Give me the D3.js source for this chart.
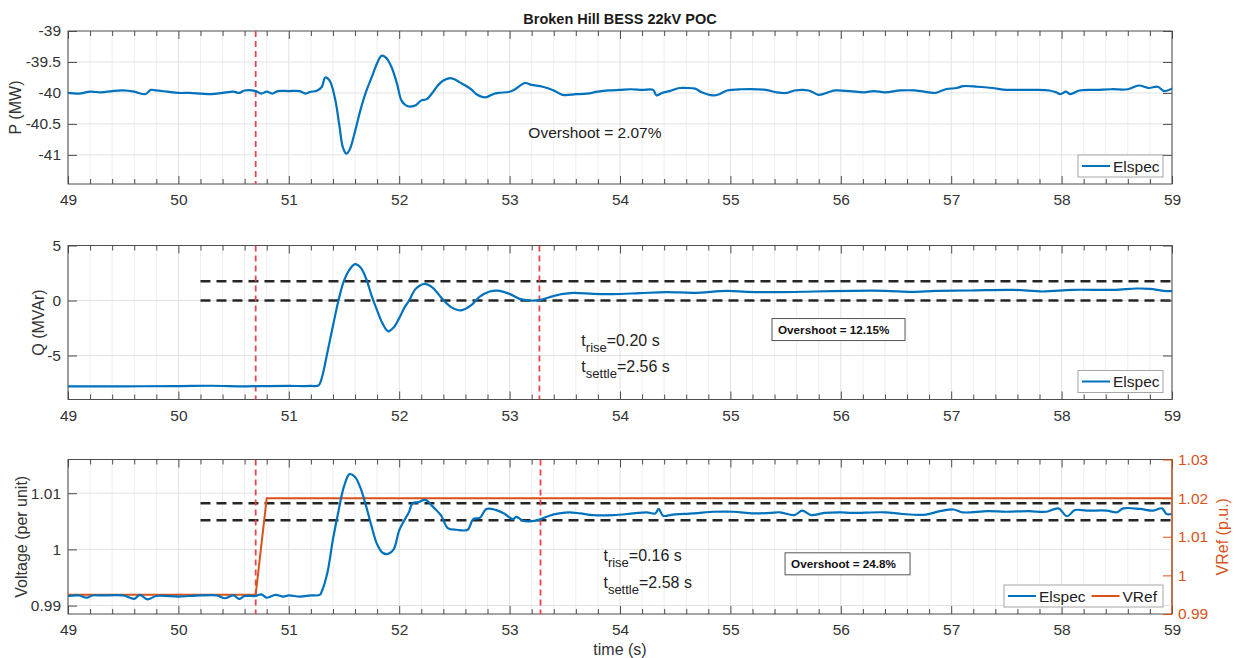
<!DOCTYPE html>
<html><head><meta charset="utf-8">
<script src="https://cdn.jsdelivr.net/npm/d3@7"></script>
<style>
body{margin:0;background:#fff}
svg{display:block;font-family:"Liberation Sans",Arial,Helvetica,sans-serif}
</style>
</head><body>
<svg id="c" width="1236" height="658"></svg>
<script>
// ---------------- DATA ----------------
const chartTitle = "Broken Hill BESS 22kV POC";
const timeTicks = [49,50,51,52,53,54,55,56,57,58,59];
const timeMinorStep = 0.2;

const pTicks = [-41,-40.5,-40,-39.5,-39];
const qTicks = [-5,0,5];
const vTicks = [0.99,1,1.01];
const vrefTicks = [0.99,1,1.01,1.02,1.03];

// Elspec active power (MW): [time, value]
const pSeries = [
[49.0,-40.0],[49.1,-40.01],[49.2,-39.98],[49.3,-39.99],[49.4,-39.97],[49.5,-39.96],[49.6,-39.98],[49.7,-40.02],[49.75,-39.95],[49.8,-39.96],[49.9,-39.98],
[50.0,-40.0],[50.1,-40.0],[50.2,-40.01],[50.3,-40.02],[50.4,-40.0],[50.5,-39.98],[50.55,-40.0],[50.6,-39.96],[50.7,-39.97],[50.75,-40.01],[50.8,-39.98],[50.85,-40.01],[50.9,-39.97],
[51.0,-39.97],[51.1,-39.97],[51.15,-40.01],[51.2,-39.98],[51.25,-39.97],[51.3,-39.9],[51.33,-39.75],[51.37,-39.8],[51.42,-40.1],[51.46,-40.55],[51.49,-40.88],[51.52,-40.98],[51.55,-40.92],[51.6,-40.62],[51.65,-40.27],[51.7,-39.98],[51.75,-39.75],[51.8,-39.52],[51.84,-39.4],[51.88,-39.43],[51.93,-39.58],
[51.98,-39.85],[52.02,-40.12],[52.06,-40.2],[52.1,-40.22],[52.15,-40.2],[52.2,-40.12],[52.25,-40.1],[52.3,-40.0],[52.35,-39.88],[52.4,-39.8],[52.46,-39.76],[52.5,-39.78],[52.55,-39.83],[52.6,-39.88],[52.65,-39.94],[52.7,-40.02],[52.78,-40.07],[52.85,-40.02],[52.9,-40.0],
[53.0,-39.98],[53.05,-39.94],[53.14,-39.84],[53.2,-39.87],[53.3,-39.9],[53.4,-39.96],[53.48,-40.03],[53.6,-40.02],[53.7,-40.01],[53.8,-39.98],[53.9,-39.96],
[54.0,-39.95],[54.1,-39.94],[54.2,-39.95],[54.3,-39.95],[54.33,-40.04],[54.38,-40.0],[54.45,-39.97],[54.54,-39.92],[54.6,-39.92],[54.68,-39.93],[54.74,-39.99],[54.84,-40.04],[54.9,-40.02],[54.97,-39.96],
[55.1,-39.94],[55.32,-39.95],[55.42,-39.99],[55.51,-40.0],[55.58,-39.96],[55.71,-39.96],[55.8,-40.03],[55.9,-39.98],[55.95,-39.96],
[56.08,-39.97],[56.21,-39.99],[56.3,-39.97],[56.4,-39.99],[56.54,-39.96],[56.67,-39.96],[56.8,-39.99],[56.86,-40.0],[56.95,-39.94],
[57.05,-39.92],[57.11,-39.89],[57.24,-39.9],[57.37,-39.92],[57.5,-39.95],[57.63,-39.95],[57.76,-39.95],[57.89,-39.96],[57.95,-39.99],[57.99,-40.02],
[58.04,-39.98],[58.08,-40.02],[58.16,-39.96],[58.32,-39.95],[58.45,-39.94],[58.6,-39.94],[58.7,-39.88],[58.79,-39.92],[58.87,-39.9],[58.93,-39.97],[59.0,-39.93]
];

// Elspec reactive power (MVAr): [time, value]
const qSeries = [
[49.0,-7.8],[49.5,-7.8],[50.0,-7.78],[50.3,-7.75],[50.6,-7.8],[50.8,-7.78],[51.0,-7.77],[51.2,-7.77],[51.27,-7.72],[51.3,-7.0],[51.35,-4.7],[51.4,-2.3],[51.45,0.0],[51.5,1.8],[51.55,2.8],[51.6,3.3],[51.65,3.0],[51.7,2.0],[51.75,0.45],[51.8,-0.9],[51.85,-2.1],[51.9,-2.8],[51.95,-2.45],
[52.0,-1.6],[52.05,-0.6],[52.09,0.0],[52.15,1.06],[52.23,1.52],[52.3,1.2],[52.39,0.15],[52.47,-0.6],[52.56,-0.9],[52.65,-0.45],[52.73,0.36],[52.82,0.82],[52.89,0.9],
[53.0,0.6],[53.09,0.15],[53.18,0.0],[53.27,0.03],[53.36,0.3],[53.47,0.58],[53.58,0.7],[53.76,0.6],[53.94,0.58],[54.18,0.67],[54.42,0.76],[54.67,0.7],[54.97,0.88],
[55.15,0.79],[55.45,0.76],[55.76,0.82],[56.1,0.88],[56.4,0.88],[56.65,0.79],[56.86,0.88],[57.17,0.91],[57.56,0.97],[57.83,0.82],[58.1,0.97],[58.47,0.97],[58.68,1.09],[58.8,1.06],[58.92,0.88],[59.0,0.85]
];

// Elspec voltage (p.u.): [time, value]
const vSeries = [
[49.0,0.9917],[49.1,0.9918],[49.17,0.9914],[49.22,0.9918],[49.3,0.9918],[49.5,0.9918],[49.6,0.9912],[49.65,0.9919],[49.72,0.9911],[49.8,0.9917],
[50.0,0.9916],[50.1,0.9917],[50.2,0.9918],[50.35,0.9918],[50.42,0.9913],[50.5,0.9918],[50.55,0.9912],[50.6,0.9917],[50.7,0.9917],[50.75,0.992],[50.8,0.9914],[50.88,0.9919],[50.95,0.9916],
[51.0,0.9918],[51.1,0.9916],[51.2,0.9918],[51.28,0.9919],[51.3,0.9926],[51.35,0.9959],[51.4,1.0018],[51.45,1.0068],[51.5,1.0112],[51.55,1.0134],[51.6,1.0129],[51.65,1.0109],[51.7,1.0077],[51.75,1.0041],[51.8,1.0009],[51.85,0.9994],[51.9,0.9992],[51.95,1.0],
[52.0,1.0034],[52.05,1.0053],[52.09,1.0067],[52.12,1.0082],[52.17,1.0084],[52.24,1.0088],[52.3,1.0077],[52.38,1.006],[52.44,1.0038],[52.52,1.0035],[52.62,1.0035],[52.67,1.0054],[52.73,1.0056],[52.79,1.0072],[52.88,1.007],[52.95,1.0064],
[53.03,1.0054],[53.06,1.0058],[53.12,1.0051],[53.18,1.005],[53.27,1.0053],[53.36,1.006],[53.45,1.0064],[53.54,1.0066],[53.64,1.0064],[53.76,1.0061],[53.94,1.0061],
[54.12,1.0064],[54.24,1.0066],[54.32,1.0064],[54.35,1.0072],[54.39,1.006],[54.48,1.0062],[54.67,1.0064],[54.85,1.0067],[55.03,1.0067],[55.21,1.0064],[55.36,1.0065],[55.45,1.0066],[55.58,1.0061],[55.65,1.0069],[55.73,1.0061],[55.85,1.0065],
[56.0,1.0066],[56.1,1.0065],[56.4,1.0066],[56.56,1.0063],[56.77,1.0062],[56.9,1.0068],[57.02,1.0071],[57.1,1.0066],[57.33,1.0068],[57.5,1.0067],[57.7,1.0068],[57.86,1.0067],[57.97,1.0073],
[58.05,1.0059],[58.12,1.007],[58.23,1.0069],[58.41,1.0069],[58.5,1.0066],[58.56,1.0073],[58.71,1.0072],[58.83,1.0069],[58.91,1.0073],[58.95,1.0063],[59.0,1.0063]
];

// Voltage reference (p.u., right axis)
const vrefSeries = [[49.0,0.995],[50.7,0.995],[50.8,1.02],[59.0,1.02]];

// Settling bands and event markers
const bandStart = 50.2;
const qBand = [0, 1.75];
const vBand = [1.0052, 1.0082];
const pEvents = [50.7];
const qEvents = [50.7, 53.27];
const vEvents = [50.7, 53.28];

// Annotation texts
const pOvershoot = "Overshoot = 2.07%";
const qRise = "0.20 s", qSettle = "2.56 s", qOvershoot = "Overshoot = 12.15%";
const vRise = "0.16 s", vSettle = "2.58 s", vOvershoot = "Overshoot = 24.8%";

// ---------------- DRAW ----------------
const BLUE = "#0072BD", ORANGE = "#D95319", RED = "#e4474c", AX = "#4d4d4d", TXT = "#333";
const svg = d3.select("#c");
const L = 68, R = 1172;
const x = d3.scaleLinear().domain([49,59]).range([L,R]);
const minorTicks = d3.range(49, 59.0001, timeMinorStep).map(v => +v.toFixed(1)).filter(v => !timeTicks.includes(v));
const fmt = v => String(v);

function panel(id, top, bottom, yDomain, yTicks) {
  const y = d3.scaleLinear().domain(yDomain).range([bottom, top]);
  const g = svg.append("g");
  svg.append("clipPath").attr("id","clip"+id).append("rect")
    .attr("x",L).attr("y",top).attr("width",R-L).attr("height",bottom-top);
  const grid = g.append("g");
  grid.selectAll(".mn").data(minorTicks).join("line")
    .attr("x1",d=>x(d)).attr("x2",d=>x(d)).attr("y1",top).attr("y2",bottom)
    .attr("stroke","#eeeeee").attr("stroke-width",1);
  grid.selectAll(".mj").data(timeTicks).join("line")
    .attr("x1",d=>x(d)).attr("x2",d=>x(d)).attr("y1",top).attr("y2",bottom)
    .attr("stroke","#e2e2e2").attr("stroke-width",1);
  grid.selectAll(".hy").data(yTicks.filter(v => y(v) > top+1 && y(v) < bottom-1)).join("line")
    .attr("x1",L).attr("x2",R).attr("y1",d=>y(d)).attr("y2",d=>y(d))
    .attr("stroke","#e2e2e2").attr("stroke-width",1);
  const styleAxis = (sel, col) => {
    sel.select(".domain").remove();
    sel.selectAll(".tick line").attr("stroke", col || AX);
    sel.selectAll(".tick text").attr("fill", col || TXT).style("font-size","15.5px").style("font-family",'"Liberation Sans",Arial,sans-serif');
  };
  g.append("g").attr("transform",`translate(0,${bottom})`)
    .call(d3.axisBottom(x).tickValues(timeTicks).tickFormat(fmt).tickSizeInner(-8).tickSizeOuter(0).tickPadding(10))
    .call(s=>styleAxis(s));
  g.append("g").attr("transform",`translate(0,${bottom})`)
    .call(d3.axisBottom(x).tickValues(minorTicks).tickFormat("").tickSizeInner(-5).tickSizeOuter(0))
    .call(s=>styleAxis(s));
  g.append("g").attr("transform",`translate(0,${top})`)
    .call(d3.axisTop(x).tickValues(timeTicks).tickFormat("").tickSizeInner(-8).tickSizeOuter(0))
    .call(s=>styleAxis(s));
  g.append("g").attr("transform",`translate(0,${top})`)
    .call(d3.axisTop(x).tickValues(minorTicks).tickFormat("").tickSizeInner(-5).tickSizeOuter(0))
    .call(s=>styleAxis(s));
  g.append("g").attr("transform",`translate(${L},0)`)
    .call(d3.axisLeft(y).tickValues(yTicks).tickFormat(fmt).tickSizeInner(-9).tickSizeOuter(0).tickPadding(7))
    .call(s=>styleAxis(s));
  g.append("rect").attr("x",L).attr("y",top).attr("width",R-L).attr("height",bottom-top)
    .attr("fill","none").attr("stroke",AX).attr("stroke-width",1);
  const plot = svg.append("g").attr("clip-path",`url(#clip${id})`);
  return {y, g, plot, top, bottom};
}

function seriesLine(plot, yS, data, color, w, curve) {
  plot.append("path").datum(data)
    .attr("d", d3.line().x(d=>x(d[0])).y(d=>yS(d[1])).curve(curve || d3.curveCatmullRom.alpha(0.5)))
    .attr("fill","none").attr("stroke",color).attr("stroke-width",w)
    .attr("stroke-linejoin","round").attr("stroke-linecap","round");
}
function events(p, list) {
  p.plot.selectAll(null).data(list).join("line")
    .attr("x1",d=>x(d)).attr("x2",d=>x(d)).attr("y1",p.top).attr("y2",p.bottom)
    .attr("stroke",RED).attr("stroke-width",1.8).attr("stroke-dasharray","6,4");
}
function band(p, vals) {
  p.plot.selectAll(null).data(vals).join("line")
    .attr("x1",x(bandStart)).attr("x2",x(59)).attr("y1",d=>p.y(d)).attr("y2",d=>p.y(d))
    .attr("stroke","#262626").attr("stroke-width",2.4).attr("stroke-dasharray","10,6");
}
function legend(p, items, width) {
  const h = 22, rx = R - 9, by = p.bottom - 7;
  const lg = svg.append("g").attr("transform",`translate(${rx-width},${by-h})`);
  lg.append("rect").attr("width",width).attr("height",h).attr("fill","#fff").attr("stroke","#a6a6a6").attr("stroke-width",1);
  let cx = 4;
  items.forEach(it => {
    lg.append("line").attr("x1",cx).attr("x2",cx+28).attr("y1",h/2).attr("y2",h/2).attr("stroke",it.color).attr("stroke-width",2);
    const t = lg.append("text").attr("x",cx+31).attr("y",h/2).attr("dy","0.36em").attr("fill","#222")
      .style("font-size","15.5px").text(it.name);
    cx += 31 + t.node().getComputedTextLength() + 6;
  });
}
function riseSettle(p, t, yv1, yv2, rise, settle) {
  const mk = (yy, sub, val) => {
    const tx = p.g.append("text").attr("x",x(t)).attr("y",p.y(yy)).attr("fill","#222").style("font-size","16px");
    tx.append("tspan").text("t");
    tx.append("tspan").attr("dy",6).style("font-size","13px").text(sub);
    tx.append("tspan").attr("dy",-6).text("=" + val);
  };
  mk(yv1, "rise", rise);
  mk(yv2, "settle", settle);
}
function boxText(p, t, yv, w, h, txt) {
  const bx = x(t), by = p.y(yv);
  p.g.append("rect").attr("x",bx).attr("y",by).attr("width",w).attr("height",h)
    .attr("fill","#fff").attr("stroke","#555").attr("stroke-width",1);
  p.g.append("text").attr("x",bx+6).attr("y",by+h/2).attr("dy","0.36em").attr("fill","#111")
    .style("font-size","11.7px").style("font-weight","bold").text(txt);
}
function yLabel(cx, cy, txt, col) {
  svg.append("text").attr("transform",`translate(${cx},${cy}) rotate(-90)`).attr("text-anchor","middle")
    .attr("dy","0.35em").attr("fill",col||TXT).style("font-size","16px").text(txt);
}

// Title
svg.append("text").attr("x",(L+R)/2).attr("y",24).attr("text-anchor","middle").attr("fill","#1a1a1a")
  .style("font-size","14.5px").style("font-weight","bold").text(chartTitle);

// Panel 1: P
const p1 = panel(1, 31, 184, [-41.47,-39], pTicks);
events(p1, pEvents);
seriesLine(p1.plot, p1.y, pSeries, BLUE, 2.2);
p1.g.append("text").attr("x",x(53.17)).attr("y",p1.y(-40.73)).attr("fill","#222").style("font-size","15.5px").text(pOvershoot);
legend(p1, [{name:"Elspec",color:BLUE}], 85);
yLabel(15, (31+184)/2, "P (MW)");

// Panel 2: Q
const p2 = panel(2, 245.5, 399.5, [-9,5], qTicks);
band(p2, qBand);
events(p2, qEvents);
seriesLine(p2.plot, p2.y, qSeries, BLUE, 2.2);
riseSettle(p2, 53.65, -4.1, -6.48, qRise, qSettle);
boxText(p2, 55.377, -1.64, 133, 22, qOvershoot);
legend(p2, [{name:"Elspec",color:BLUE}], 85);
yLabel(38, (245.5+399.5)/2, "Q (MVAr)");

// Panel 3: V + VRef
const p3 = panel(3, 459.5, 614, [0.9885,1.016], vTicks);
const y2 = d3.scaleLinear().domain([0.99,1.03]).range([614,459.5]);
band(p3, vBand);
events(p3, vEvents);
seriesLine(p3.plot, y2, vrefSeries, ORANGE, 2, d3.curveLinear);
seriesLine(p3.plot, p3.y, vSeries, BLUE, 2.2);
svg.append("g").attr("transform",`translate(${R},0)`)
  .call(d3.axisRight(y2).tickValues(vrefTicks).tickFormat(fmt).tickSizeInner(-9).tickSizeOuter(0).tickPadding(6))
  .call(s=>{ s.select(".domain").remove();
    s.selectAll(".tick line").attr("stroke",ORANGE);
    s.selectAll(".tick text").attr("fill",ORANGE).style("font-size","15.5px"); });
svg.append("line").attr("x1",R).attr("x2",R).attr("y1",459.5).attr("y2",614).attr("stroke",ORANGE).attr("stroke-width",1.2);
riseSettle(p3, 53.85, 0.99785, 0.99318, vRise, vSettle);
boxText(p3, 55.495, 0.99939, 125, 22, vOvershoot);
legend(p3, [{name:"Elspec",color:BLUE},{name:"VRef",color:ORANGE}], 159);
yLabel(21, (459.5+614)/2, "Voltage (per unit)");
yLabel(1222, (459.5+614)/2, "VRef (p.u.)", ORANGE);

// x label
svg.append("text").attr("x",(L+R)/2).attr("y",655).attr("text-anchor","middle").attr("fill",TXT)
  .style("font-size","16px").text("time (s)");

// right-side y ticks for panels 1 and 2
[[p1,pTicks],[p2,qTicks]].forEach(([p,t]) => {
  svg.append("g").attr("transform",`translate(${R},0)`)
    .call(d3.axisRight(p.y).tickValues(t).tickFormat("").tickSizeInner(-9).tickSizeOuter(0))
    .call(s=>{ s.select(".domain").remove(); s.selectAll(".tick line").attr("stroke",AX); });
});
</script>
</body></html>
